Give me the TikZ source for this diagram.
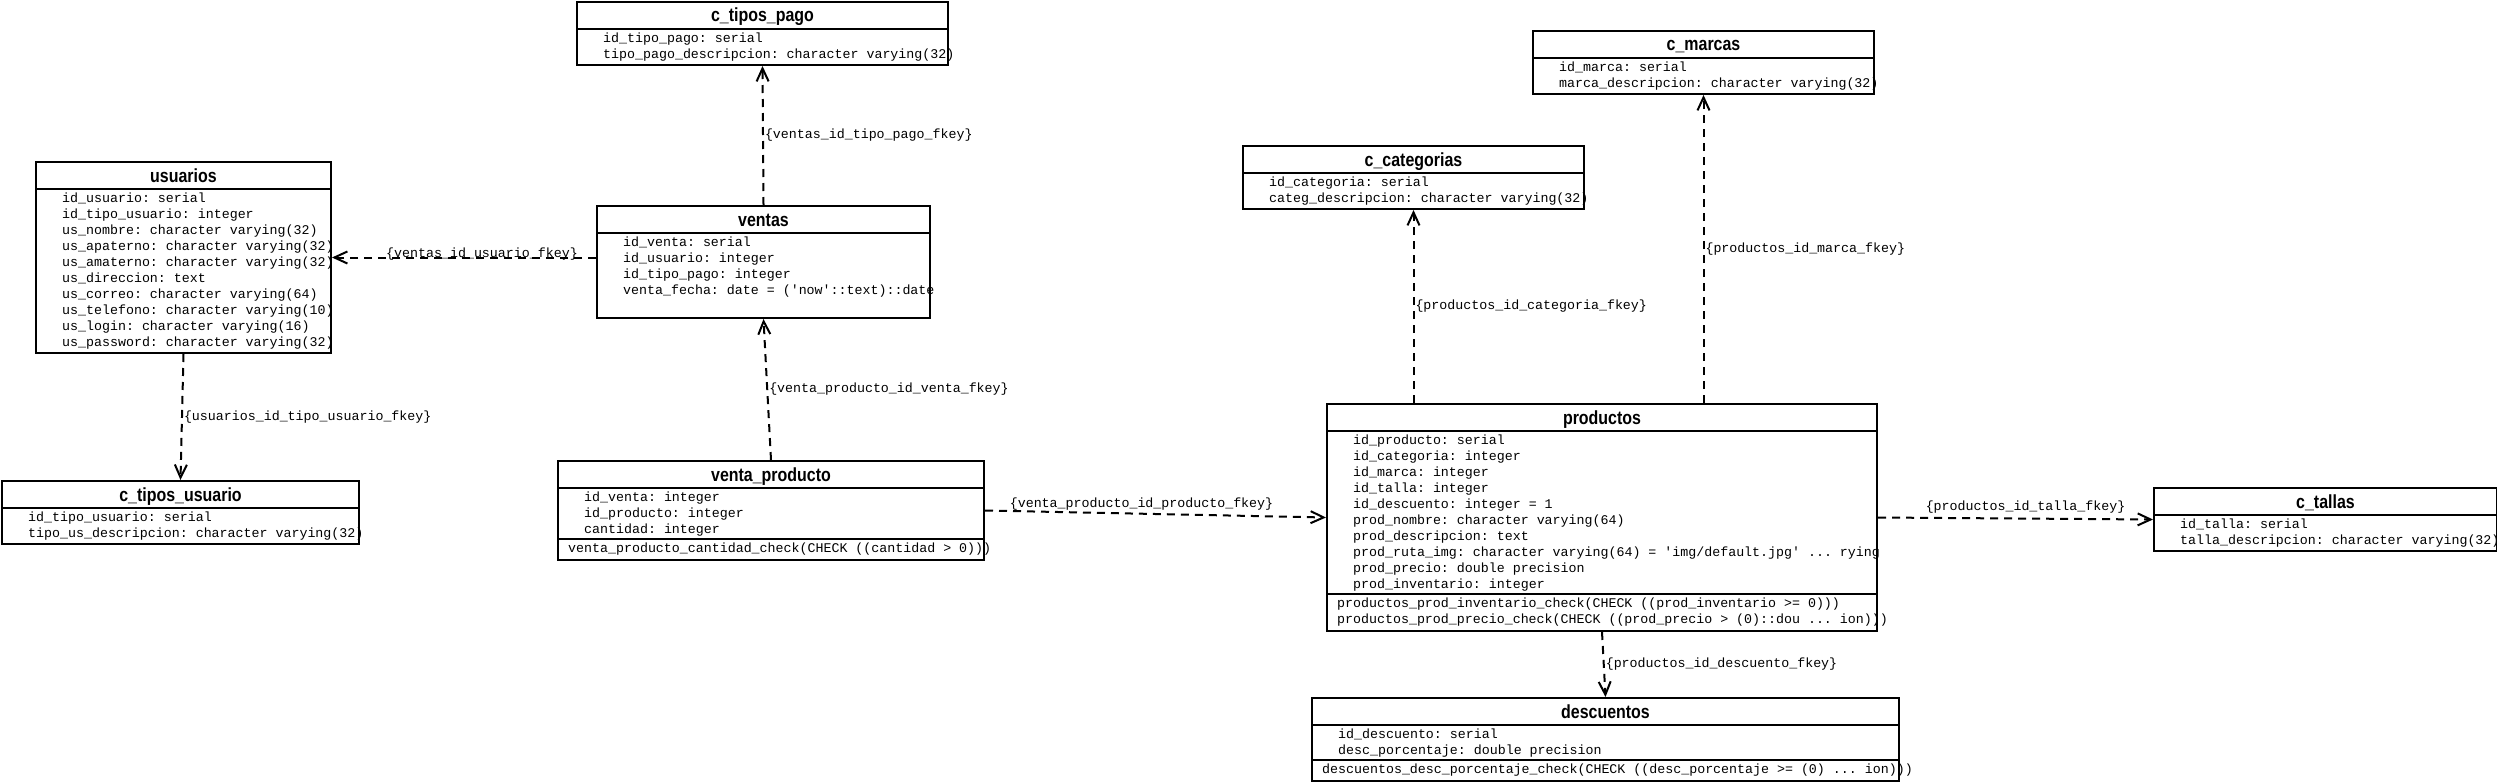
\documentclass[tikz,border=0pt]{standalone}
\usepackage{graphicx}
\usepackage{fontspec}
\setmainfont{Liberation Sans}
\setmonofont{Liberation Mono}
\usetikzlibrary{arrows.meta}
\newcommand\R{\rule{0pt}{11pt}}
\newcommand\ertable[7]{%
  \node[tbl, minimum width=#4pt, minimum height=#5pt] (#1) at (#2,#3) {};
  \draw[sepline] ([yshift=-28pt]#1.north west) -- ([yshift=-28pt]#1.north east);
  \node[ttl, anchor=base] (#1-t) at ([yshift=-21pt]#1.north) {\scalebox{0.84}[1]{#6}};
  \node[attrs] (#1-a) at ([shift={(27pt,-30.5pt)}]#1.north west) {#7};
}
\newcommand\ermeth[3]{%
  \draw[sepline] ([yshift=-#2pt]#1.north west) -- ([yshift=-#2pt]#1.north east);
  \node[attrs] (#1-m) at ([shift={(11pt,{-#2pt-2.5pt})}]#1.north west) {#3};
}
\begin{document}
\begin{tikzpicture}[x=1pt,y=-1pt,
  tbl/.style={draw, line width=2pt, inner sep=0pt, anchor=north west},
  sepline/.style={line width=2pt},
  ttl/.style={font=\fontsize{19}{21}\selectfont\bfseries, inner sep=0pt},
  attrs/.style={anchor=north west, inner sep=0pt, align=left, font=\fontsize{13.3}{16}\selectfont\ttfamily},
  lbl/.style={font=\fontsize{13.3}{16}\selectfont\ttfamily, inner sep=1pt},
  fk/.style={line width=2pt, dash pattern=on 8pt off 6pt,
    -{Straight Barb[length=13pt,width=12pt,line width=2pt]}}]
\fill[white] (0,0) rectangle (2497,784);
\useasboundingbox (0,0) rectangle (2497,784);

\ertable{ctipospago}{576}{1}{371}{63}{c\_tipos\_pago}{%
\R id\_tipo\_pago: serial\\
\R tipo\_pago\_descripcion: character varying(32)}

\ertable{usuarios}{35}{161}{295}{191}{usuarios}{%
\R id\_usuario: serial\\
\R id\_tipo\_usuario: integer\\
\R us\_nombre: character varying(32)\\
\R us\_apaterno: character varying(32)\\
\R us\_amaterno: character varying(32)\\
\R us\_direccion: text\\
\R us\_correo: character varying(64)\\
\R us\_telefono: character varying(10)\\
\R us\_login: character varying(16)\\
\R us\_password: character varying(32)}

\ertable{ventas}{596}{205}{333}{112}{ventas}{%
\R id\_venta: serial\\
\R id\_usuario: integer\\
\R id\_tipo\_pago: integer\\
\R venta\_fecha: date = ('now'::text)::date}

\ertable{ctiposusuario}{1}{480}{357}{63}{c\_tipos\_usuario}{%
\R id\_tipo\_usuario: serial\\
\R tipo\_us\_descripcion: character varying(32)}

\ertable{ventaproducto}{557}{460}{426}{99}{venta\_producto}{%
\R id\_venta: integer\\
\R id\_producto: integer\\
\R cantidad: integer}
\ermeth{ventaproducto}{79}{\R venta\_producto\_cantidad\_check(CHECK ((cantidad > 0)))}

\ertable{ccategorias}{1242}{145}{341}{63}{c\_categorias}{%
\R id\_categoria: serial\\
\R categ\_descripcion: character varying(32)}

\ertable{cmarcas}{1532}{30}{341}{63}{c\_marcas}{%
\R id\_marca: serial\\
\R marca\_descripcion: character varying(32)}

\ertable{productos}{1326}{403}{550}{227}{productos}{%
\R id\_producto: serial\\
\R id\_categoria: integer\\
\R id\_marca: integer\\
\R id\_talla: integer\\
\R id\_descuento: integer = 1\\
\R prod\_nombre: character varying(64)\\
\R prod\_descripcion: text\\
\R prod\_ruta\_img: character varying(64) = 'img/default.jpg' ... rying\\
\R prod\_precio: double precision\\
\R prod\_inventario: integer}
\ermeth{productos}{191}{\R productos\_prod\_inventario\_check(CHECK ((prod\_inventario >= 0)))\\
\R productos\_prod\_precio\_check(CHECK ((prod\_precio > (0)::dou ... ion)))}

\ertable{descuentos}{1311}{697}{587}{83}{descuentos}{%
\R id\_descuento: serial\\
\R desc\_porcentaje: double precision}
\ermeth{descuentos}{63}{\R descuentos\_desc\_porcentaje\_check(CHECK ((desc\_porcentaje >= (0) ... ion)))}

\ertable{ctallas}{2153}{487}{343}{63}{c\_tallas}{%
\R id\_talla: serial\\
\R talla\_descripcion: character varying(32)}

\draw[fk] (ventas.west |- usuarios.east) -- node[lbl, pos=.5, xshift=18pt, yshift=3pt] (l1) {\{ventas\_id\_usuario\_fkey\}} (usuarios.east);
\draw[fk] (ventas.north) -- node[lbl, right] (l2) {\{ventas\_id\_tipo\_pago\_fkey\}} (ctipospago.south);
\draw[fk] (usuarios.south) -- node[lbl, right] (l3) {\{usuarios\_id\_tipo\_usuario\_fkey\}} (ctiposusuario.north);
\draw[fk] (ventaproducto.north) -- node[lbl, right] (l4) {\{venta\_producto\_id\_venta\_fkey\}} (ventas.south);
\draw[fk] (ventaproducto.east) -- node[lbl, pos=.5, xshift=-14pt, yshift=10pt] (l5) {\{venta\_producto\_id\_producto\_fkey\}} (productos.west);
\draw[fk] (productos.north -| ccategorias.south) -- node[lbl, right] (l6) {\{productos\_id\_categoria\_fkey\}} (ccategorias.south);
\draw[fk] (productos.north -| cmarcas.south) -- node[lbl, right] (l7) {\{productos\_id\_marca\_fkey\}} (cmarcas.south);
\draw[fk] (productos.east) -- node[lbl, pos=.5, xshift=10pt, yshift=11pt] (l8) {\{productos\_id\_talla\_fkey\}} (ctallas.west);
\draw[fk] (productos.south) -- node[lbl, right] (l9) {\{productos\_id\_descuento\_fkey\}} (descuentos.north);
\end{tikzpicture}
\end{document}
